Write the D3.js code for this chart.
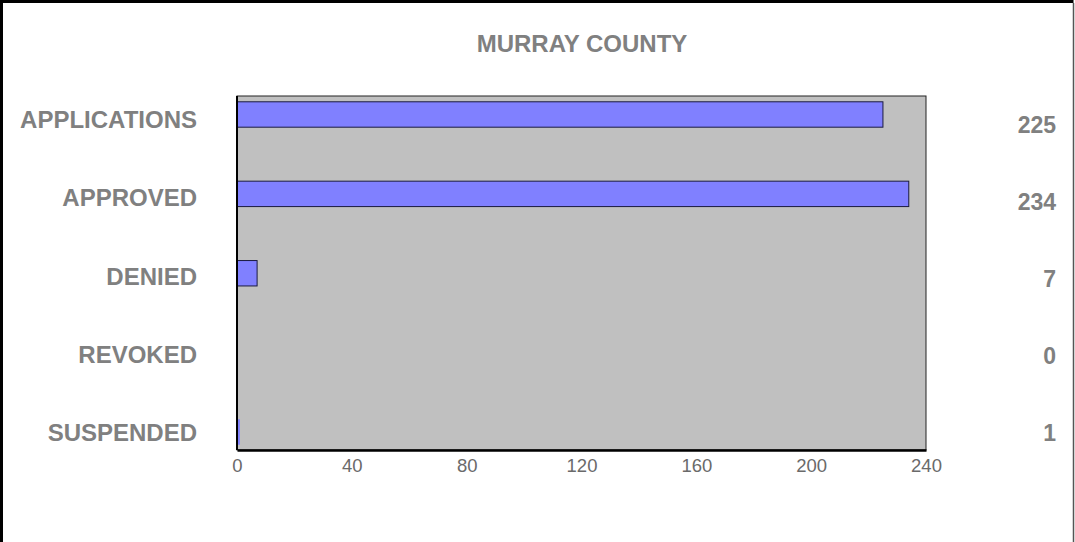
<!DOCTYPE html>
<html>
<head>
<meta charset="utf-8">
<script src="https://cdn.jsdelivr.net/npm/d3@7"></script>
<style>
html,body{margin:0;padding:0;background:#fff;}
svg{display:block;}
</style>
</head>
<body>
<svg id="chart" width="1075" height="542"></svg>
<script>
const title = "MURRAY COUNTY";
const categories = ["APPLICATIONS", "APPROVED", "DENIED", "REVOKED", "SUSPENDED"];
const values = [225, 234, 7, 0, 1];
const tickValues = [0, 40, 80, 120, 160, 200, 240];

const svg = d3.select("#chart");
const W = 1075, H = 542;

// outer frame
svg.append("path")
  .attr("d", `M1.5,${H} L1.5,1.5 L1073.5,1.5`)
  .attr("fill", "none").attr("stroke", "#000").attr("stroke-width", 3);
svg.append("line").attr("x1", 1073.5).attr("x2", 1073.5).attr("y1", 3).attr("y2", H)
  .attr("stroke", "#555").attr("stroke-width", 1.5);

const plot = {left: 237, right: 926, top: 96, bottom: 450};

const x = d3.scaleLinear().domain([0, 240]).range([plot.left, plot.right]);
const y = d3.scaleBand().domain(categories)
  .range([74.8, 471.7]).paddingInner(0.68).paddingOuter(0.34);
const yLabel = d3.scalePoint().domain(categories).range([128.3, 441]);
const yValue = d3.scalePoint().domain(categories).range([133.3, 441]);

// plot background
svg.append("rect")
  .attr("x", plot.left).attr("y", plot.top)
  .attr("width", plot.right - plot.left).attr("height", plot.bottom - plot.top)
  .attr("fill", "#C0C0C0").attr("stroke", "#222").attr("stroke-width", 1);

// bars
svg.append("g").selectAll("rect").data(categories).join("rect")
  .attr("x", x(0))
  .attr("y", d => y(d))
  .attr("width", (d, i) => x(values[i]) - x(0))
  .attr("height", y.bandwidth())
  .attr("fill", "#8080FF")
  .attr("stroke", (d, i) => values[i] >= 3 ? "#1a1a40" : "none")
  .attr("stroke-width", 1);

// left axis line (thicker)
svg.append("line").attr("x1", plot.left).attr("x2", plot.left)
  .attr("y1", plot.top).attr("y2", plot.bottom)
  .attr("stroke", "#000").attr("stroke-width", 2);

// x axis
const xAxis = d3.axisBottom(x).tickValues(tickValues).tickSize(0).tickPadding(9);
const gx = svg.append("g").attr("transform", `translate(0,${plot.bottom})`).call(xAxis);
gx.select(".domain").attr("stroke", "#000").attr("stroke-width", 2.5);
gx.selectAll("text")
  .attr("fill", "#6a6a6a")
  .style("font-family", "'Liberation Sans', Arial, sans-serif")
  .style("font-size", "18.5px");

// title
svg.append("text")
  .attr("x", 582).attr("y", 52.3)
  .attr("text-anchor", "middle")
  .attr("fill", "#808080")
  .style("font-family", "'Liberation Sans', Arial, sans-serif")
  .style("font-weight", "bold")
  .style("font-size", "24px")
  .text(title);

// category labels
svg.append("g").selectAll("text").data(categories).join("text")
  .attr("x", 197)
  .attr("y", d => yLabel(d))
  .attr("text-anchor", "end")
  .attr("fill", "#808080")
  .style("font-family", "'Liberation Sans', Arial, sans-serif")
  .style("font-weight", "bold")
  .style("font-size", "24px")
  .text(d => d);

// value labels
svg.append("g").selectAll("text").data(categories).join("text")
  .attr("x", 1056)
  .attr("y", d => yValue(d))
  .attr("text-anchor", "end")
  .attr("fill", "#808080")
  .style("font-family", "'Liberation Sans', Arial, sans-serif")
  .style("font-weight", "bold")
  .style("font-size", "23px")
  .text((d, i) => values[i]);
</script>
</body>
</html>
